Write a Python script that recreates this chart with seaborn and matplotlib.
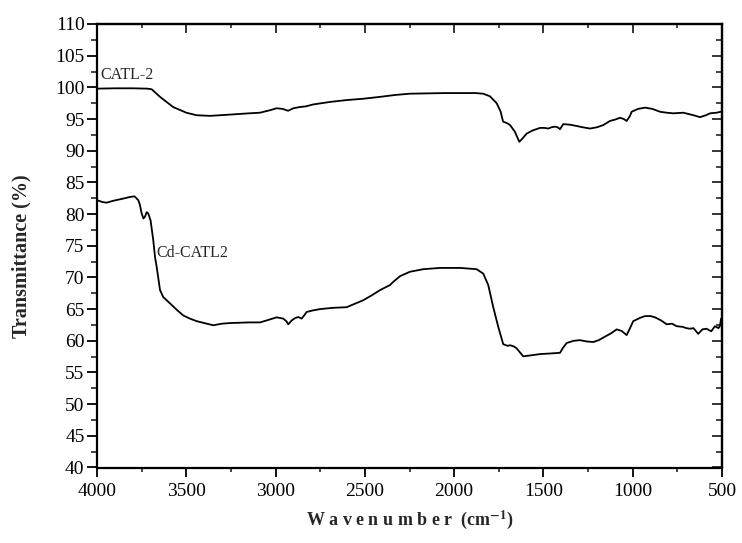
import numpy as np
import pandas as pd
import matplotlib
matplotlib.use("Agg")
import matplotlib.pyplot as plt
import seaborn as sns
from matplotlib.ticker import MultipleLocator

# CATL-2 spectrum (wavenumber, transmittance)
catl_wn = [4000, 3900, 3800, 3720, 3694, 3647, 3574, 3500, 3442, 3367, 3255, 3150, 3087,
           3030, 2994, 2960, 2930, 2900, 2863, 2830, 2790, 2695, 2600, 2510, 2415, 2330,
           2247, 2150, 2050, 1950, 1880, 1838, 1800, 1762, 1740, 1726, 1700, 1687, 1660,
           1635, 1615, 1594, 1560, 1519, 1495, 1473, 1455, 1435, 1420, 1407, 1389, 1350,
           1314, 1280, 1239, 1200, 1165, 1127, 1100, 1071, 1050, 1034, 1015, 1006, 970,
           931, 890, 847, 810, 773, 717, 660, 623, 590, 567, 530, 507, 500]
catl_t = [99.8, 99.85, 99.85, 99.8, 99.7, 98.5, 96.9, 96.0, 95.6, 95.5, 95.7, 95.9, 96.0,
          96.4, 96.7, 96.6, 96.3, 96.7, 96.9, 97.0, 97.3, 97.7, 98.0, 98.2, 98.5, 98.8,
          99.0, 99.05, 99.1, 99.1, 99.1, 99.0, 98.6, 97.5, 96.2, 94.6, 94.3, 94.05, 93.0,
          91.4, 92.0, 92.7, 93.2, 93.6, 93.6, 93.5, 93.7, 93.8, 93.7, 93.4, 94.2, 94.1,
          93.9, 93.7, 93.5, 93.7, 94.05, 94.7, 94.9, 95.2, 95.0, 94.7, 95.5, 96.15, 96.6,
          96.8, 96.6, 96.15, 96.0, 95.9, 96.0, 95.6, 95.3, 95.6, 95.9, 96.0, 96.15, 96.2]

# Cd-CATL2 spectrum (wavenumber, transmittance)
cd_wn = [4000, 3970, 3946, 3909, 3860, 3815, 3790, 3769, 3760, 3750, 3740, 3731, 3722,
         3713, 3700, 3685, 3675, 3666, 3647, 3629, 3591, 3550, 3517, 3480, 3442, 3400,
         3349, 3300, 3255, 3200, 3150, 3087, 3040, 2994, 2957, 2940, 2929, 2910, 2890,
         2873, 2854, 2840, 2826, 2790, 2751, 2680, 2602, 2509, 2460, 2415, 2359, 2341,
         2303, 2247, 2173, 2079, 1967, 1874, 1837, 1809, 1781, 1753, 1725, 1700, 1687,
         1665, 1650, 1613, 1570, 1519, 1460, 1407, 1390, 1370, 1330, 1295, 1260, 1221,
         1190, 1165, 1120, 1090, 1062, 1034, 1015, 997, 960, 931, 900, 875, 840, 810,
         780, 754, 720, 700, 679, 660, 633, 610, 587, 560, 540, 520, 512, 505, 500]
cd_t = [82.2, 81.9, 81.8, 82.1, 82.4, 82.7, 82.8, 82.2, 81.5, 80.1, 79.3, 79.6, 80.3,
        80.1, 79.0, 75.9, 73.2, 71.7, 68.0, 66.9, 65.9, 64.8, 64.0, 63.5, 63.1, 62.8,
        62.45, 62.7, 62.8, 62.85, 62.9, 62.9, 63.3, 63.7, 63.5, 63.1, 62.6, 63.2, 63.6,
        63.75, 63.5, 64.0, 64.55, 64.8, 65.0, 65.2, 65.3, 66.4, 67.2, 68.0, 68.8, 69.3,
        70.2, 70.9, 71.3, 71.5, 71.5, 71.3, 70.6, 68.8, 65.3, 62.2, 59.45, 59.2, 59.3,
        59.1, 58.8, 57.55, 57.7, 57.9, 58.0, 58.1, 58.9, 59.65, 60.0, 60.1, 59.9, 59.8,
        60.1, 60.5, 61.2, 61.8, 61.55, 60.9, 62.0, 63.1, 63.6, 63.9, 63.9, 63.7, 63.2,
        62.6, 62.7, 62.3, 62.2, 62.0, 61.9, 62.0, 61.1, 61.8, 61.9, 61.5, 62.3, 62.0,
        62.3, 63.5, 63.2]

sns.set_style("ticks")
plt.rcParams['font.family'] = ['Liberation Serif', 'DejaVu Serif']
plt.rcParams['mathtext.fontset'] = 'stix'

fig = plt.figure(figsize=(7.42, 5.43), dpi=100)
ax = fig.add_axes([97/742, 1 - 467.5/543, (722 - 97)/742, (467.5 - 24)/543])

df1 = pd.DataFrame({"wn": catl_wn, "T": catl_t})
df2 = pd.DataFrame({"wn": cd_wn, "T": cd_t})
sns.lineplot(data=df1, x="wn", y="T", ax=ax, color="black", lw=1.3, sort=False)
sns.lineplot(data=df2, x="wn", y="T", ax=ax, color="black", lw=1.3, sort=False)

ax.set_xlim(4000, 500)
ax.set_ylim(40, 110)
ax.xaxis.set_major_locator(MultipleLocator(500))
ax.xaxis.set_minor_locator(MultipleLocator(250))
ax.yaxis.set_major_locator(MultipleLocator(5))
ax.yaxis.set_minor_locator(MultipleLocator(2.5))

for s in ax.spines.values():
    s.set_linewidth(1.6)
    s.set_color("black")

ax.tick_params(axis='both', which='major', labelsize=14, width=1.3, direction='out',
               colors='black')
ax.tick_params(axis='x', which='major', length=6.5, pad=5)
ax.tick_params(axis='x', which='minor', length=3, width=1.2, direction='out')
ax.tick_params(axis='y', which='major', length=7, pad=2)
ax.tick_params(axis='y', which='minor', length=4.3, width=1.2, direction='out')

# mirrored inward ticks on top and right
axt = ax.secondary_xaxis('top')
axt.xaxis.set_major_locator(MultipleLocator(500))
axt.xaxis.set_minor_locator(MultipleLocator(250))
axt.tick_params(which='major', direction='in', length=6.5, width=1.3, labeltop=False)
axt.tick_params(which='minor', direction='in', length=3, width=1.2)
axr = ax.secondary_yaxis('right')
axr.yaxis.set_major_locator(MultipleLocator(5))
axr.yaxis.set_minor_locator(MultipleLocator(2.5))
axr.tick_params(which='major', direction='in', length=7, width=1.3, labelright=False)
axr.tick_params(which='minor', direction='in', length=4.3, width=1.2)
axt.spines['top'].set_linewidth(1.6)
axr.spines['right'].set_linewidth(1.6)

ax.set_xlabel(r"W a v e n u m b e r  (cm$^{\mathbf{-1}}$)", fontsize=13, fontweight='bold')
ax.set_ylabel("Transmittance (%)", fontsize=14.5, fontweight='bold')
ax.xaxis.set_label_coords((410 - 97) / 625, -(520 - 467.5) / 443.5)
ax.yaxis.set_label_coords(-(97 - 21) / 625, (467.5 - 256) / 443.5)
ax.xaxis.label.set_va('center')
ax.yaxis.label.set_va('center')

ax.text(3983, 101.9, "CATL-2", fontsize=11.5, va='center', ha='left')
ax.text(3668, 73.8, "Cd-CATL2", fontsize=11.5, va='center', ha='left')

fig.savefig("out.png", dpi=100, facecolor="white")
